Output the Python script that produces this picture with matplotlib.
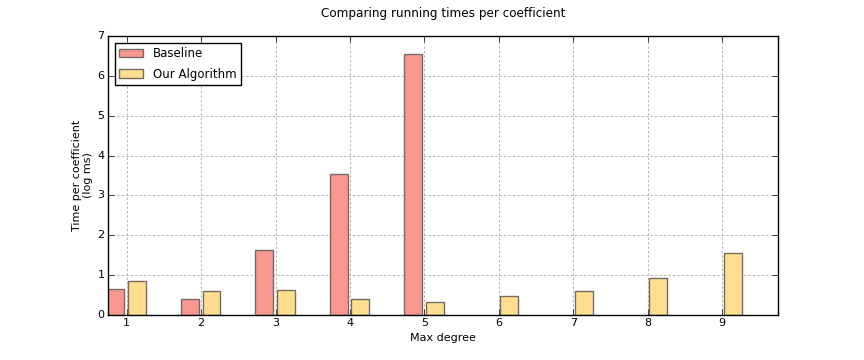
import matplotlib
matplotlib.use("Agg")
import matplotlib.pyplot as plt
import numpy as np

degrees = [1, 2, 3, 4, 5, 6, 7, 8, 9]
baseline = [0.64, 0.39, 1.62, 3.55, 6.54, 0, 0, 0, 0]
algorithm = [0.845, 0.594, 0.62, 0.393, 0.318, 0.468, 0.594, 0.92, 1.547]
labels = ["Baseline", "Our Algorithm"]

plt.style.use("classic")
fig = plt.figure(figsize=(8.64, 3.6), dpi=100, facecolor="white")
ax = fig.add_axes([108/864, 1-315/360, (778-108)/864, (315-36)/360])

x = np.array(degrees, dtype=float)
w = 0.24
base_idx = [i for i, v in enumerate(baseline) if v > 0]
ax.bar(x[base_idx] - 0.27, [baseline[i] for i in base_idx], w, align="edge",
       color="#F7978F", edgecolor="#736b64", linewidth=1, label=labels[0])
ax.bar(x + 0.02, algorithm, w, align="edge",
       color="#FFDF8F", edgecolor="#736b64", linewidth=1, label=labels[1])

ax.set_xlim(0.75, 9.75)
ax.set_ylim(0, 7)
ax.set_xticks(degrees)
ax.tick_params(labelsize=8, pad=2.5)
ax.grid(True, color="#b0b0b0", linestyle=(0, (1.6, 1.6)), linewidth=0.7)
ax.set_axisbelow(True)
ax.set_xlabel("Max degree", fontsize=8, labelpad=3)
ax.set_ylabel("Time per coefficient\n(log ms)", fontsize=8, labelpad=3)
ax.set_title("Comparing running times per coefficient", fontsize=8.65, pad=14)
leg = ax.legend(loc="upper left", fontsize=8.5, borderaxespad=0.57,
                borderpad=0.4, handlelength=2.0, handletextpad=0.85,
                labelspacing=0.6, fancybox=False)
leg.get_frame().set_linewidth(1)

fig.savefig("out.png", dpi=100, facecolor="white")
